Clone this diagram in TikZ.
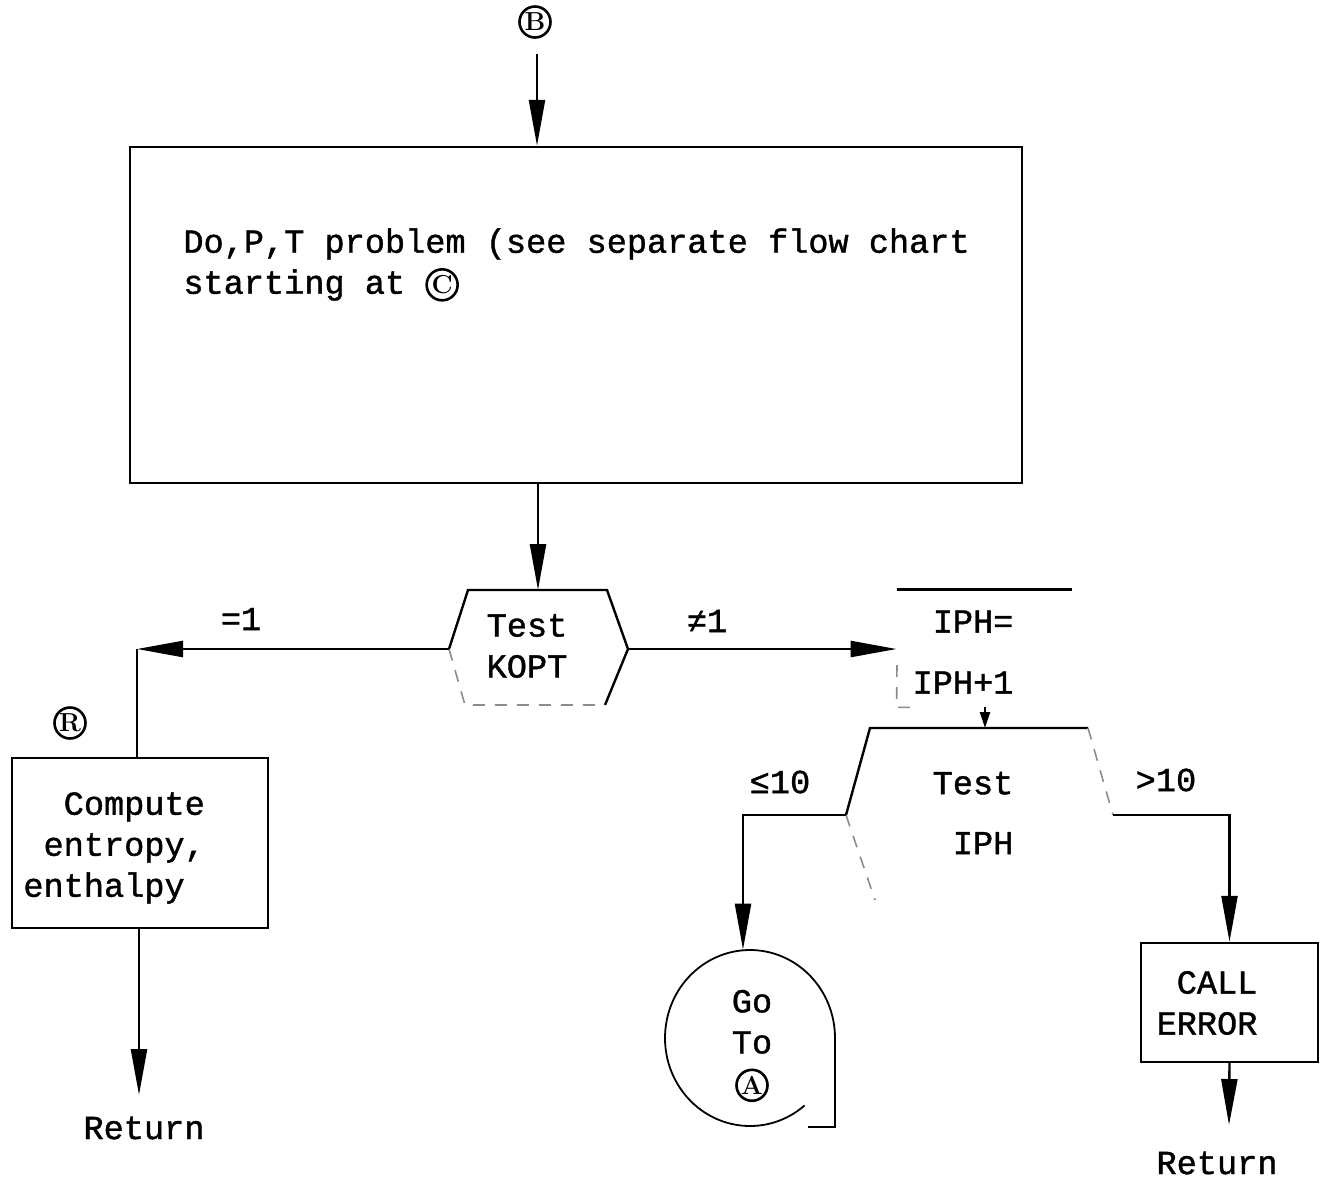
\documentclass[tikz,border=0pt]{standalone}
\usepackage{fontspec}
\newfontfamily\mono[FakeBold=1.2]{Liberation Mono}
\usetikzlibrary{arrows.meta,shapes.geometric}
\newcommand{\circlet}[1]{\tikz[baseline=(cl.base)]\node[circle, draw, line width=1.3pt, inner sep=0pt, minimum size=15.5pt, font=\rmfamily\bfseries\fontsize{13}{13}\selectfont] (cl) {#1};}
\begin{document}
\begin{tikzpicture}[x=0.5pt,y=-0.5pt,
  every node/.style={font=\mono\fontsize{16.8}{20.5}\selectfont, inner sep=0pt},
  line/.style={line width=1.2pt, black},
  arr/.style={line, -{Triangle[length=23pt,width=8pt]}},
  sarr/.style={line, -{Triangle[length=8pt,width=5pt]}},
  faint/.style={line width=0.8pt, black!45, dash pattern=on 6pt off 5pt},
  circ/.style={circle, draw, line width=1.3pt, minimum size=15.5pt, font=\rmfamily\bfseries\fontsize{13}{13}\selectfont}
]
\useasboundingbox (0,0) rectangle (1329,1180);

% top connector
\node[circ] (b) at (535,22) {B};
\node[draw, line, minimum width=446pt, minimum height=168pt] (big) at (576,315) {};
\node[anchor=west, align=left] (bigt) at (183,265) {Do,P,T problem (see separate flow chart\\starting at \circlet{C}};
\coordinate (bs) at (537,54);
\draw[arr] (bs) -- (bs |- big.north);

% Test KOPT
\node[align=center] (kopt) at (527,646) {Test\\KOPT};
\coordinate (ktl) at (468,590);
\coordinate (ktr) at (607,590);
\coordinate (kw) at (449,649);
\coordinate (ke) at (628,649);
\coordinate (kbl) at (465,705);
\coordinate (kbr) at (605,705);
\draw[line] (kw) -- (ktl) -- (ktr) -- (ke) -- (kbr);
\draw[faint] (kw) -- (kbl) -- (kbr);
\coordinate (kt) at (538,590);
\draw[arr] (big.south -| kt) -- (kt);

% =1 branch
\coordinate (lc) at (137,649);
\node (eq1) at (241,619) {=1};
\draw[arr] (kw) -- (lc);
\node[draw, line, minimum width=128pt, minimum height=85pt] (comp) at (140,843) {};
\node[anchor=west, align=left] (compt) at (23,848) {\phantom{xx}Compute\\\phantom{x}entropy,\\enthalpy};
\node[circ] (r) at (70,723) {R};
\draw[line] (lc) -- (lc |- comp.north);
\coordinate (r1) at (139,1095);
\draw[arr] (comp.south -| r1) -- (r1);
\node (ret1) at (144,1128) {Return};

% ne1 branch
\node (ne1) at (707,621) {≠1};
\node[minimum width=87.5pt, minimum height=58.5pt] (iph) at (984.5,648.5) {};
\node[align=left] (ipht) at (963,652) {\phantom{x}IPH=\\[10pt]IPH+1};
\draw[arr] (ke) -- (ke -| iph.west);
\draw[line] (iph.north west) -- (iph.north east);
\draw[faint] (897,665) -- (iph.south west) -- ++(15,0);

% Test IPH
\coordinate (ttl) at (870,728);
\coordinate (ttr) at (1088,728);
\coordinate (tw) at (846,815);
\coordinate (te) at (1113,815);
\coordinate (tbl) at (875,900);
\node[align=left] (tiph) at (973,813) {Test\\[9.5pt]\phantom{x}IPH};
\draw[line] (tw) -- (ttl) -- (ttr);
\draw[faint] (ttr) -- (te);
\draw[faint] (tw) -- (tbl);
\coordinate (it) at (985,707);
\draw[sarr] (it) -- (it |- ttl);

% <=10 branch
\node (le10) at (780,782) {≤10};
\node[ellipse, minimum width=85pt, minimum height=88pt] (go) at (750,1038) {};
\node[align=center] (got) at (752,1046) {Go\\To\\\circlet{A}};
\draw[line, line width=0.9pt] ([shift={(50:85 and 88)}]go.center) arc[start angle=50, end angle=360, x radius=85, y radius=88]
  -- ++(0,89) -- ++(-27,0);
\coordinate (gl) at (743,815);
\draw[arr] (tw) -- (gl) -- (gl |- go.north);

% >10 branch
\node (gt10) at (1166,780) {>10};
\node[draw, line, minimum width=88.5pt, minimum height=59.5pt] (err) at (1229.5,1002.5) {};
\node[align=left] (errt) at (1207,1003) {\phantom{x}CALL\\ERROR};
\draw[arr] (te) -| (err.north);
\coordinate (r2) at (1229,1125);
\draw[arr] (err.south) -- (r2);
\node (ret2) at (1217,1163) {Return};
\end{tikzpicture}
\end{document}
